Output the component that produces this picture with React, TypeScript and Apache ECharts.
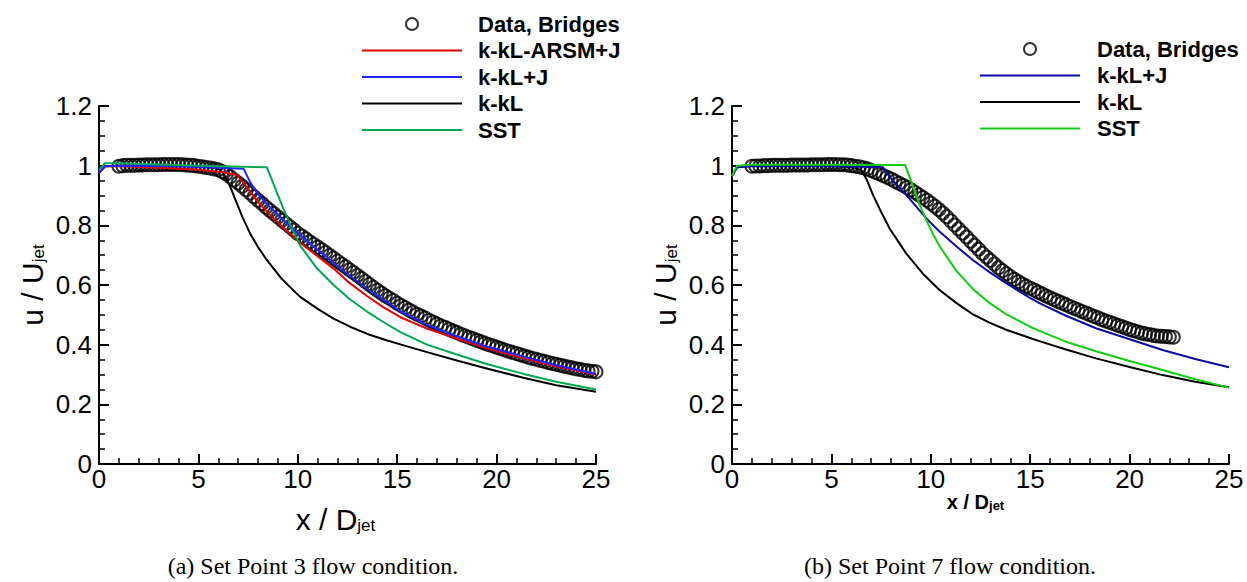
import React, { useEffect, useRef } from "react";
import * as echarts from "echarts";

// Bridges measurements: centreline velocity sampled every 0.2 jet diameters
const DATA_X_START = 1;
const DATA_X_STEP = 0.2;

const SP3_BRIDGES_U = [
  0.998, 1.0, 1.001, 1.001, 1.001, 1.002, 1.002, 1.003, 1.003, 1.003,
  1.003, 1.004, 1.004, 1.004, 1.004, 1.004, 1.003, 1.002, 1.001, 1.0,
  0.998, 0.996, 0.994, 0.992, 0.989, 0.986, 0.98, 0.972, 0.963, 0.952,
  0.942, 0.931, 0.919, 0.908, 0.896, 0.884, 0.873, 0.861, 0.85, 0.839,
  0.828, 0.817, 0.806, 0.795, 0.784, 0.773, 0.764, 0.755, 0.745, 0.736,
  0.727, 0.718, 0.709, 0.699, 0.69, 0.68, 0.67, 0.661, 0.651, 0.642,
  0.632, 0.622, 0.612, 0.602, 0.592, 0.582, 0.573, 0.564, 0.556, 0.548,
  0.539, 0.531, 0.524, 0.516, 0.509, 0.502, 0.496, 0.489, 0.482, 0.476,
  0.469, 0.463, 0.458, 0.452, 0.446, 0.441, 0.435, 0.43, 0.425, 0.42,
  0.415, 0.41, 0.405, 0.4, 0.396, 0.391, 0.387, 0.382, 0.378, 0.374,
  0.37, 0.366, 0.362, 0.358, 0.354, 0.351, 0.347, 0.344, 0.34, 0.337,
  0.334, 0.331, 0.328, 0.325, 0.322, 0.319, 0.317, 0.314, 0.312, 0.311,
  0.309,
];

const SP7_BRIDGES_U = [
  0.998, 0.999, 0.999, 1.0, 1.0, 1.001, 1.001, 1.001, 1.001, 1.001,
  1.002, 1.002, 1.002, 1.002, 1.002, 1.003, 1.003, 1.003, 1.003, 1.004,
  1.004, 1.004, 1.003, 1.003, 1.002, 1.0, 0.998, 0.996, 0.993, 0.989,
  0.984, 0.978, 0.973, 0.967, 0.961, 0.955, 0.948, 0.941, 0.934, 0.927,
  0.919, 0.911, 0.902, 0.893, 0.884, 0.874, 0.864, 0.853, 0.841, 0.829,
  0.815, 0.801, 0.788, 0.774, 0.761, 0.747, 0.733, 0.72, 0.706, 0.694,
  0.682, 0.67, 0.658, 0.648, 0.638, 0.628, 0.619, 0.611, 0.603, 0.596,
  0.589, 0.583, 0.576, 0.57, 0.563, 0.557, 0.551, 0.545, 0.54, 0.534,
  0.528, 0.522, 0.517, 0.511, 0.506, 0.5, 0.495, 0.49, 0.484, 0.479,
  0.475, 0.47, 0.465, 0.461, 0.456, 0.451, 0.447, 0.443, 0.439, 0.436,
  0.434, 0.431, 0.429, 0.428, 0.427, 0.426, 0.425,
];

// Set Point 3 model predictions [x/Djet, u/Ujet]
const SP3_KKL_ARSM_J: [number, number][] = [
  [0, 0.975], [0.3, 0.998], [1, 0.998], [3, 0.993], [5, 0.986], [6.2, 0.978], [6.8, 0.971], [7.0, 0.965],
  [7.3, 0.94], [7.6, 0.912], [8.0, 0.878], [8.44, 0.846], [9.28, 0.792], [10.12, 0.742], [10.96, 0.698],
  [11.8, 0.655], [12.6, 0.607], [13.48, 0.563], [14.3, 0.526], [15.16, 0.492], [16.5, 0.454], [18, 0.42],
  [19.5, 0.388], [21.36, 0.354], [23, 0.327], [25, 0.3],
];
const SP3_KKL_J: [number, number][] = [
  [0, 0.975], [0.3, 0.998], [1, 1.0], [4, 0.998], [7.27, 0.99], [7.6, 0.945], [8.0, 0.905], [8.44, 0.872],
  [9.28, 0.818], [10.12, 0.768], [10.96, 0.72], [11.8, 0.674], [12.6, 0.632], [13.48, 0.589], [14.3, 0.551],
  [15.16, 0.512], [16.5, 0.466], [18, 0.428], [19.5, 0.394], [21.36, 0.36], [23, 0.331], [25, 0.302],
];
const SP3_KKL: [number, number][] = [
  [0, 0.975], [0.3, 0.998], [1, 1.0], [3, 1.0], [5, 0.998], [5.8, 0.993], [6.0, 0.99], [6.3, 0.97],
  [6.6, 0.93], [6.8, 0.896], [7.2, 0.83], [7.6, 0.773], [8.0, 0.727], [8.44, 0.684], [9.2, 0.62],
  [10.1, 0.561], [11.0, 0.52], [11.8, 0.487], [12.6, 0.461], [13.5, 0.436], [14.5, 0.414], [15.2, 0.4],
  [16.5, 0.375], [18, 0.347], [19.5, 0.32], [21.35, 0.289], [23, 0.264], [25, 0.242],
];
const SP3_SST: [number, number][] = [
  [0, 0.985], [0.3, 1.008], [1, 1.008], [3, 1.004], [6, 0.998], [8.44, 0.995], [8.8, 0.935], [9.28, 0.855],
  [9.7, 0.79], [10.12, 0.732], [10.96, 0.656], [11.8, 0.6], [12.6, 0.553], [13.48, 0.511], [14.3, 0.476],
  [15.16, 0.442], [16.5, 0.4], [18, 0.367], [19.5, 0.335], [21.36, 0.302], [23, 0.276], [25, 0.25],
];

// Set Point 7 model predictions [x/Djet, u/Ujet]
const SP7_KKL_J: [number, number][] = [
  [0, 0.965], [0.25, 0.995], [1, 0.998], [5, 0.998], [7.59, 0.995], [7.92, 0.963], [8.76, 0.902],
  [9.77, 0.824], [10.44, 0.779], [11.28, 0.73], [12.11, 0.684], [12.95, 0.643], [13.79, 0.606],
  [14.96, 0.558], [15.46, 0.539], [16.8, 0.497], [18.31, 0.455], [20, 0.418], [21.66, 0.382],
  [23.3, 0.352], [25, 0.324],
];
const SP7_KKL: [number, number][] = [
  [0, 0.965], [0.25, 0.995], [1, 1.0], [3, 1.0], [5, 1.0], [6.0, 0.995], [6.5, 0.986], [6.8, 0.95],
  [7.09, 0.902], [7.5, 0.845], [7.92, 0.79], [8.76, 0.706], [9.6, 0.638], [10.44, 0.583], [11.28, 0.54],
  [12.11, 0.502], [12.95, 0.474], [13.79, 0.45], [14.96, 0.423], [15.46, 0.412], [16.8, 0.384],
  [18.31, 0.354], [20, 0.325], [21.66, 0.298], [23.3, 0.276], [25, 0.257],
];
const SP7_SST: [number, number][] = [
  [0, 0.965], [0.25, 1.0], [1, 1.003], [4, 1.003], [8.71, 1.002], [9.0, 0.95], [9.4, 0.875], [9.77, 0.818],
  [10.1, 0.772], [10.44, 0.73], [11.28, 0.648], [12.11, 0.587], [12.95, 0.54], [13.79, 0.502],
  [14.96, 0.461], [15.46, 0.446], [16.8, 0.41], [18.31, 0.378], [20, 0.345], [21.66, 0.315], [23.3, 0.284],
  [25, 0.256],
];

const SANS = '"Liberation Sans", Arial, Helvetica, sans-serif';
const SERIF = '"Liberation Serif", "Times New Roman", serif';

const withX = (u: number[]) => u.map((v, i) => [+(DATA_X_START + i * DATA_X_STEP).toFixed(2), v]);

const SUB_RICH = (size: number, subSize: number, weight: string, drop: number) => ({
  m: { fontSize: size, fontFamily: SANS, fontWeight: weight, color: "#000", lineHeight: size, verticalAlign: "top", padding: [0, 0, drop, 0] },
  s: { fontSize: subSize, fontFamily: SANS, fontWeight: weight, color: "#000", lineHeight: subSize, verticalAlign: "bottom" },
});

function xAxis(gridIndex: number, nameGap: number, rich: any, pad: number[]) {
  return {
    type: "value",
    gridIndex,
    min: 0,
    max: 25,
    interval: 5,
    axisLine: { show: true, onZero: false, lineStyle: { color: "#000", width: 2 } },
    axisTick: { show: true, inside: true, length: 10, lineStyle: { color: "#000", width: 2 } },
    minorTick: { show: true, splitNumber: 5, length: 6, lineStyle: { color: "#000", width: 1.5 } },
    splitLine: { show: false },
    axisLabel: { color: "#000", fontSize: 26, fontFamily: SANS, margin: 2 },
    name: "{m|x / D}{s|jet}",
    nameLocation: "middle",
    nameGap,
    nameMoveOverlap: false,
    nameTextStyle: { rich, padding: pad },
  };
}

function yAxis(gridIndex: number) {
  return {
    type: "value",
    gridIndex,
    min: 0,
    max: 1.2,
    interval: 0.2,
    axisLine: { show: true, onZero: false, lineStyle: { color: "#000", width: 2 } },
    axisTick: { show: true, inside: true, length: 10, lineStyle: { color: "#000", width: 2 } },
    minorTick: { show: true, splitNumber: 4, length: 6, lineStyle: { color: "#000", width: 1.5 } },
    splitLine: { show: false },
    axisLabel: { color: "#000", fontSize: 26, fontFamily: SANS, margin: 7 },
    name: "{m|u / U}{s|jet}",
    nameLocation: "middle",
    nameGap: 52,
    nameRotate: 90,
    nameMoveOverlap: false,
    nameTextStyle: { rich: SUB_RICH(30, 17, "normal", 7) },
  };
}

const bridgesSeries = (name: string, idx: number, u: number[]) => ({
  name,
  type: "scatter",
  xAxisIndex: idx,
  yAxisIndex: idx,
  symbol: "circle",
  symbolSize: 13,
  itemStyle: { color: "rgba(0,0,0,0)", borderColor: "#000", borderWidth: 2 },
  data: withX(u),
  z: 1,
});

const modelSeries = (name: string, idx: number, color: string, data: [number, number][]) => ({
  name,
  type: "line",
  xAxisIndex: idx,
  yAxisIndex: idx,
  symbol: "none",
  showSymbol: false,
  lineStyle: { color, width: 2, join: "round" },
  itemStyle: { color },
  data,
  z: 3,
});

const lineItem = (name: string) => ({ name, itemStyle: { opacity: 0, color: "rgba(0,0,0,0)", borderWidth: 0 } });

const legendText = (padLeft: number) => ({
  fontFamily: SANS,
  fontWeight: "bold",
  fontSize: 22,
  color: "#000",
  lineHeight: 20,
  padding: [0, 0, 0, padLeft],
});

const legendBase = {
  orient: "vertical",
  itemWidth: 100,
  itemHeight: 12,
  itemGap: 4.5,
  selectedMode: false,
  formatter: (name: string) => name.split("|")[1],
};

export default function App() {
  const ref = useRef<HTMLDivElement>(null);

  useEffect(() => {
    if (!ref.current) return;
    const chart = echarts.init(ref.current, undefined, { renderer: "svg" });
    const sp3 = ["SP3|Data, Bridges", "SP3|k-kL-ARSM+J", "SP3|k-kL+J", "SP3|k-kL", "SP3|SST"];
    const sp7 = ["SP7|Data, Bridges", "SP7|k-kL+J", "SP7|k-kL", "SP7|SST"];

    chart.setOption({
      animation: false,
      backgroundColor: "#fff",
      grid: [
        { left: 99, top: 106, width: 497, height: 358, show: false },
        { left: 732, top: 106, width: 497, height: 358, show: false },
      ],
      xAxis: [
        xAxis(0, 40, SUB_RICH(30, 17, "normal", 7), [0, 24, 0, 0]),
        xAxis(1, 28, SUB_RICH(20, 13, "bold", 5), [0, 10, 0, 0]),
      ],
      yAxis: [yAxis(0), yAxis(1)],
      legend: [
        {
          ...legendBase,
          left: 356,
          top: 8,
          data: [sp3[0], ...sp3.slice(1).map(lineItem)],
          textStyle: legendText(11),
        },
        {
          ...legendBase,
          left: 974,
          top: 33,
          data: [sp7[0], ...sp7.slice(1).map(lineItem)],
          textStyle: legendText(12),
        },
      ],
      series: [
        bridgesSeries(sp3[0], 0, SP3_BRIDGES_U),
        modelSeries(sp3[3], 0, "#000000", SP3_KKL),
        modelSeries(sp3[1], 0, "#e00000", SP3_KKL_ARSM_J),
        modelSeries(sp3[2], 0, "#2323ff", SP3_KKL_J),
        modelSeries(sp3[4], 0, "#00a651", SP3_SST),
        bridgesSeries(sp7[0], 1, SP7_BRIDGES_U),
        modelSeries(sp7[2], 1, "#000000", SP7_KKL),
        modelSeries(sp7[1], 1, "#0b0ba3", SP7_KKL_J),
        modelSeries(sp7[3], 1, "#12cc12", SP7_SST),
      ],
      graphic: [
        {
          type: "text",
          x: 313,
          y: 566,
          style: { text: "(a) Set Point 3 flow condition.", fontSize: 24, fontFamily: SERIF, fill: "#000", align: "center", verticalAlign: "middle" },
        },
        {
          type: "text",
          x: 950,
          y: 566,
          style: { text: "(b) Set Point 7 flow condition.", fontSize: 24, fontFamily: SERIF, fill: "#000", align: "center", verticalAlign: "middle" },
        },
      ],
    });

    return () => chart.dispose();
  }, []);

  return (
    <div
      ref={ref}
      style={{ position: "fixed", left: 0, top: 0, width: 1247, height: 582, background: "#fff" }}
    />
  );
}
